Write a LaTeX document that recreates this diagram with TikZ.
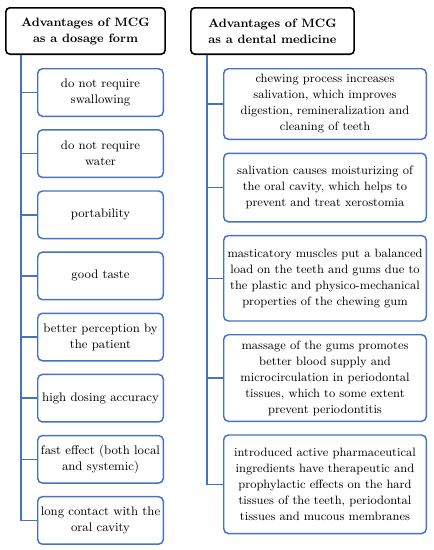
\documentclass[tikz,border=0pt]{standalone}
\usepackage{tikz}
\usetikzlibrary{positioning}
\definecolor{boxblue}{RGB}{68,114,196}
\tikzset{
  head/.style={draw=black, line width=1.2pt, rounded corners=3pt, minimum width=119.5pt, minimum height=34.8pt, align=center, font=\fontsize{9.1}{12}\selectfont\bfseries},
  itembox/.style={draw=boxblue, line width=1.1pt, rounded corners=3.5pt, align=center, inner sep=2pt, font=\fontsize{9.3}{12}\selectfont},
  leftbox/.style={itembox, minimum width=94.15pt, minimum height=35.65pt},
  rightbox/.style={itembox, minimum width=151.9pt, font=\fontsize{9.1}{12}\selectfont},
  link/.style={draw=boxblue, line width=1.1pt}
}

\begin{document}
\begin{tikzpicture}[x=0.75pt, y=-0.75pt, node distance=9.1pt]
			\useasboundingbox (0,0) rectangle (433,550);
			\node[head] (HL) at (85.5,31)		{Advantages of MCG\\as a dosage form};
			\node[head, minimum width=122.5pt] (HR) at (272.5,31)		{Advantages of MCG\\as a dental medicine};
			%
			\node[leftbox] (L1) at (100.5,92.5)		{do not require\\swallowing};
			\node[leftbox] (L2) [below=of L1]		{do not require\\water};
			\node[leftbox] (L3) [below=of L2]		{portability};
			\node[leftbox] (L4) [below=of L3]		{good taste};
			\node[leftbox] (L5) [below=of L4]		{better perception by\\the patient};
			\node[leftbox] (L6) [below=of L5]		{high dosing accuracy};
			\node[leftbox] (L7) [below=of L6]		{fast effect (both local\\and systemic)};
			\node[leftbox] (L8) [below=of L7]		{long contact with the\\oral cavity};
			%
			\node[rightbox, minimum height=52.9pt] (R1) at (325,104)		{chewing process increases\\salivation, which improves\\digestion, remineralization and\\cleaning of teeth};
			\node[rightbox, minimum height=51.4pt] (R2) [below=9.4pt of R1]		{salivation causes moisturizing of\\the oral cavity, which helps to\\prevent and treat xerostomia};
			\node[rightbox, minimum height=64.1pt] (R3) [below=9.2pt of R2]		{masticatory muscles put a balanced\\load on the teeth and gums due to\\the plastic and physico-mechanical\\properties of the chewing gum};
			\node[rightbox, minimum height=64.9pt] (R4) [below=9.2pt of R3]		{massage of the gums promotes\\better blood supply and\\microcirculation in periodontal\\tissues, which to some extent\\prevent periodontitis};
			\node[rightbox, minimum height=73.9pt] (R5) [below=9.2pt of R4]		{introduced active pharmaceutical\\ingredients have therapeutic and\\prophylactic effects on the hard\\tissues of the teeth, periodontal\\tissues and mucous membranes};
			%
			\coordinate (TL) at ([xshift=12pt]HL.south west);
			\coordinate (TR) at ([xshift=12.75pt]HR.south west);
			\draw[link]		(TL)	|- (L1);
			\draw[link]		(TL)	|- (L2);
			\draw[link]		(TL)	|- (L3);
			\draw[link]		(TL)	|- (L4);
			\draw[link]		(TL)	|- (L5);
			\draw[link]		(TL)	|- (L6);
			\draw[link]		(TL)	|- (L7);
			\draw[link]		(TL)	|- (L8);
			\draw[link]		(TR)	|- (R1);
			\draw[link]		(TR)	|- (R2);
			\draw[link]		(TR)	|- (R3);
			\draw[link]		(TR)	|- (R4);
			\draw[link]		(TR)	|- (R5);
		\end{tikzpicture}
\end{document}
